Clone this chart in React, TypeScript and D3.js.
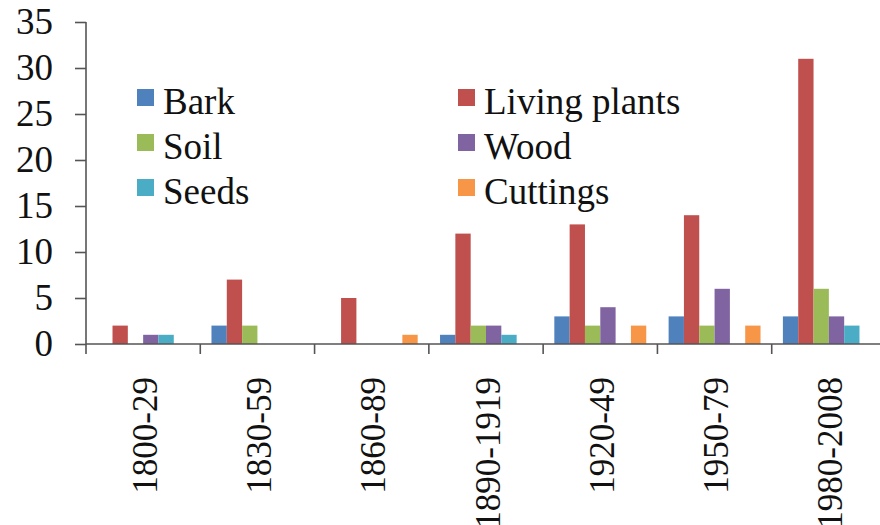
import React, { useRef, useEffect } from 'react';
import * as d3 from 'd3';

const periods = ['1800-29', '1830-59', '1860-89', '1890-1919', '1920-49', '1950-79', '1980-2008'];
const seriesNames = ['Bark', 'Living plants', 'Soil', 'Wood', 'Seeds', 'Cuttings'];
const seriesColors = ['#4F81BD', '#C0504D', '#9BBB59', '#8064A2', '#4BACC6', '#F79646'];

const bark = [0, 2, 0, 1, 3, 3, 3];
const livingPlants = [2, 7, 5, 12, 13, 14, 31];
const soil = [0, 2, 0, 2, 2, 2, 6];
const wood = [1, 0, 0, 2, 4, 6, 3];
const seeds = [1, 0, 0, 1, 0, 0, 2];
const cuttings = [0, 0, 1, 0, 2, 2, 0];

const yTicks = [0, 5, 10, 15, 20, 25, 30, 35];

const FONT = "'Liberation Serif', 'DejaVu Serif', 'Times New Roman', serif";

const App: React.FC = () => {
  const svgRef = useRef<SVGSVGElement>(null);

  useEffect(() => {
    if (!svgRef.current) return;
    const svg = d3.select(svgRef.current);
    svg.selectAll('*').remove();

    const values = [bark, livingPlants, soil, wood, seeds, cuttings];

    const x0 = d3.scaleBand<string>()
      .domain(periods)
      .range([86, 886])
      .padding(0);

    const x1 = d3.scaleBand<string>()
      .domain(seriesNames)
      .range([0, x0.bandwidth()])
      .paddingInner(0)
      .paddingOuter(0.73);

    const y = d3.scaleLinear()
      .domain([0, 35])
      .range([344, 22]);

    // Bars
    seriesNames.forEach((name, si) => {
      svg.append('g')
        .selectAll('rect')
        .data(periods.map((p, i) => ({ p, v: values[si][i] })))
        .enter()
        .append('rect')
        .attr('x', d => x0(d.p)! + x1(name)!)
        .attr('y', d => y(d.v))
        .attr('width', x1.bandwidth())
        .attr('height', d => y(0) - y(d.v))
        .attr('fill', seriesColors[si]);
    });

    // Y axis
    const yAxis = svg.append('g')
      .attr('transform', 'translate(86,0)')
      .call(d3.axisLeft(y).tickValues(yTicks).tickSize(11).tickPadding(22));
    yAxis.select('.domain').attr('stroke', '#555').attr('stroke-width', 1.6)
      .attr('d', `M0,${y(35)}V${y(0)}`);
    yAxis.selectAll('.tick line').attr('stroke', '#555').attr('stroke-width', 1.6);
    yAxis.selectAll('.tick text')
      .style('font-family', FONT)
      .style('font-size', '37px')
      .attr('fill', '#111');
    yAxis.attr('font-family', null).attr('font-size', null);

    // X axis
    const xAxis = svg.append('g')
      .attr('transform', `translate(0,${y(0)})`);
    xAxis.append('line')
      .attr('x1', 86).attr('x2', 886)
      .attr('y1', 0).attr('y2', 0)
      .attr('stroke', '#555').attr('stroke-width', 1.6);
    xAxis.selectAll('.xtick')
      .data(periods.concat(['end']))
      .enter()
      .append('line')
      .attr('class', 'xtick')
      .attr('x1', (d, i) => 86 + i * x0.step())
      .attr('x2', (d, i) => 86 + i * x0.step())
      .attr('y1', 0)
      .attr('y2', 10)
      .attr('stroke', '#555')
      .attr('stroke-width', 1.6);

    svg.append('g')
      .selectAll('text')
      .data(periods)
      .enter()
      .append('text')
      .attr('transform', d => `translate(${x0(d)! + x0.bandwidth() / 2 + 2},377) rotate(-90)`)
      .attr('text-anchor', 'end')
      .attr('dy', '0.33em')
      .style('font-family', FONT)
      .style('font-size', '35px')
      .attr('fill', '#111')
      .text(d => d);

    // Legend
    const legend = svg.append('g');
    const legendItems = legend.selectAll('.legend-item')
      .data(seriesNames)
      .enter()
      .append('g')
      .attr('class', 'legend-item')
      .attr('transform', (d, i) => `translate(${i % 2 === 0 ? 137 : 458}, ${89 + Math.floor(i / 2) * 45})`);

    legendItems.append('rect')
      .attr('width', 17)
      .attr('height', 17)
      .attr('fill', (d, i) => seriesColors[i]);

    legendItems.append('text')
      .attr('x', 26)
      .attr('y', 25)
      .style('font-family', FONT)
      .style('font-size', '37px')
      .attr('fill', '#111')
      .text(d => d);
  }, []);

  return (
    <svg
      ref={svgRef}
      width={880}
      height={525}
      style={{ position: 'absolute', left: 0, top: 0, background: '#fff' }}
    />
  );
};

export default App;
